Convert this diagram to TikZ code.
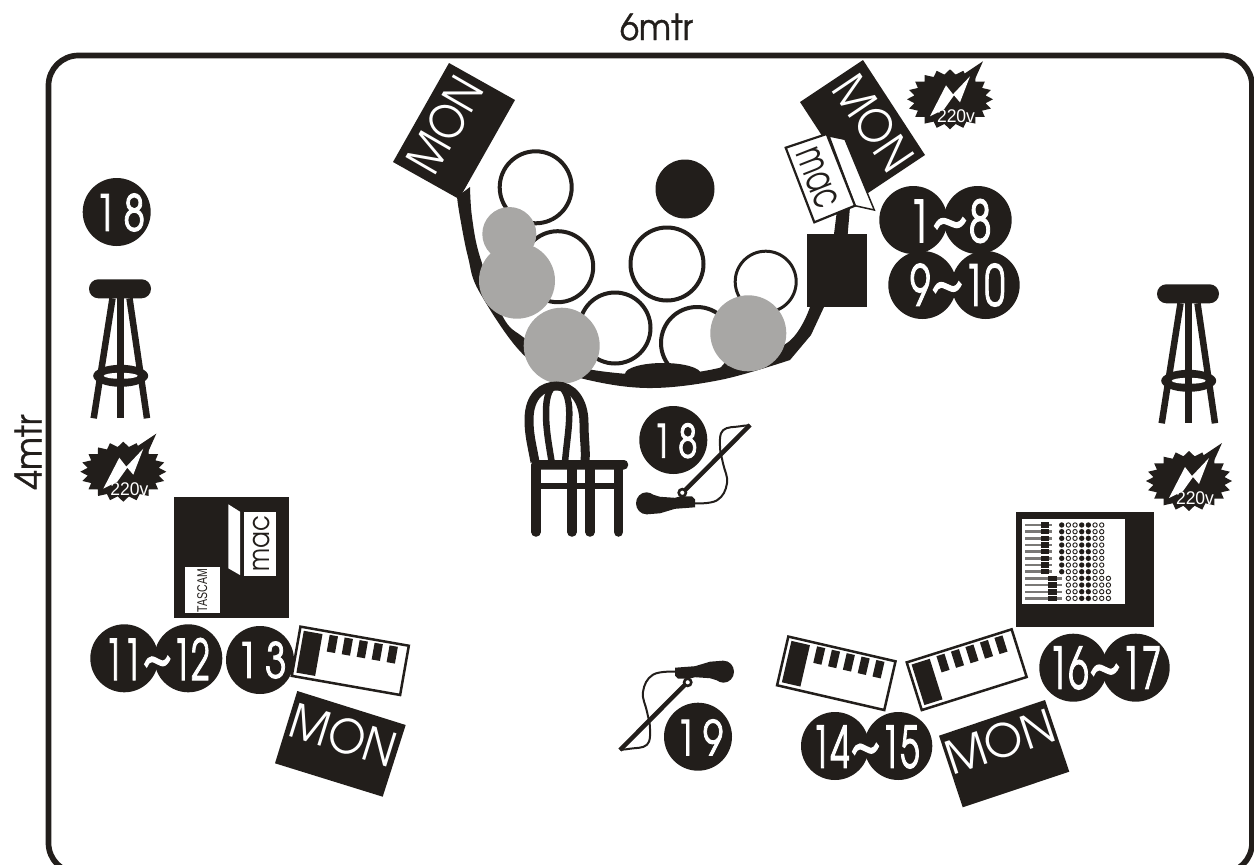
\documentclass[tikz,border=0pt]{standalone}
\usepackage{graphicx}
\usepackage{fontspec}
\setmainfont{TeX Gyre Adventor}
\newfontfamily\armfont{Liberation Sans}
\newfontfamily\numfont[FakeBold=2]{TeX Gyre Adventor}
\newfontfamily\midfont[FakeBold=1]{TeX Gyre Adventor}
\definecolor{ink}{HTML}{221E1B}
\definecolor{stone}{HTML}{A8A7A5}
\newcommand{\fitted}[3]{\resizebox*{#1pt}{#2pt}{#3}}
\newcommand{\swung}{\scalebox{1.5}[1.1]{\char"007E}}
\tikzset{
  x=1pt,y=-1pt,
  lab/.style={inner sep=0pt,outer sep=0pt,text=white},
  blk/.style={inner sep=0pt,outer sep=0pt,text=ink},
  openring/.style={draw=ink,line width=4,fill=white},
  badge/.pic={\fill[ink] (0,0) circle (34);},
  kbd/.pic={
    \draw[draw=ink,line width=2.5,fill=white] (-55,-25) rectangle (55,25);
    \fill[ink] (-51,-21.5) rectangle (-32,21);
    \foreach \k in {0,...,4}{\fill[ink] ({-20.6+15.2*\k-4.2},-22) rectangle ({-20.6+15.2*\k+4.2},-5);}
  },
  stool/.pic={
    \fill[ink,rounded corners=9.4] (0,0) rectangle (62,19);
    \draw[ink,line width=6.5] (23.5,19) -- (4.7,139);
    \draw[ink,line width=6.5] (40.5,19) -- (58,139);
    \fill[ink] (31.7,96.5) ellipse (27.5 and 11);
    \fill[white] (31.7,96.5) ellipse (17 and 3);
    \draw[ink,line width=7] (31.7,19) -- (31.7,139);
  },
  burst/.pic={
    \fill[ink] plot[samples at={0,9,...,351},variable=\t] ({(mod(\t,18)==0?43:36)*cos(\t)},{(mod(\t,18)==0?30:25)*sin(\t)}) -- cycle;
    \fill[ink] (12,-24) -- (33,-38) -- (24,-18) -- cycle;
    \fill[white] (-20,17) -- (-4,-14) -- (3,-5) -- (20,-23) -- (10,3) -- (4,-4) -- (-6,10) -- cycle;
    \node[lab] (volt) at (6,17) {\fitted{38}{13}{\armfont 220v}};
  },
  mic/.pic={
    \fill[ink] (1.5,0) ellipse (10.5 and 11);
    \fill[ink] (2,-10.5) -- (15,-6.5) -- (30,-5.5) -- (36,-7) -- (47,-7) -- (50,-4) -- (50,4) -- (30,5.5) -- (15,10) -- (2,11) -- cycle;
    \draw[ink,line width=4.5] (40,-13) -- (105,-78.3);
    \draw[ink,line width=2.6,fill=white] (37.3,-10.6) circle (3.6);
    \draw[ink,line width=2] plot[smooth,tension=.7] coordinates {(50,0) (72,-3) (82,-20) (78,-40) (75,-57) (78,-73) (95,-77) (105,-78)};
  },
}
\begin{document}
\begin{tikzpicture}
\clip (0,0) rectangle (1254,865);
% room
\draw[ink,line width=5.7,rounded corners=30] (48.5,55.5) rectangle (1252,873);
\node[blk] (widthlabel) at (656.5,27) {\fitted{73}{27}{\midfont 6mtr}};
\node[blk,rotate=90] (depthlabel) at (28,452) {\fitted{75}{27}{\midfont 4mtr}};
% drum kit
\draw[openring] (535.7,187.3) circle (36);
\draw[openring] (557.7,266.7) circle (35.5);
\draw[openring] (667,264) circle (36.5);
\draw[openring] (615,328) circle (35.5);
\draw[openring] (697,343) circle (36);
\draw[openring,line width=3] (765.7,281.7) circle (30.5);
\fill[ink] (685,189) circle (29.5);
% riser arc
\fill[ink] plot[smooth,tension=.6] coordinates {(457,197) (460,217) (468,257) (480,293) (527,358) (580,378) (647,388) (720,380) (790,360)}
  -- (811,335) -- (824,307)
  -- plot[smooth,tension=.6] coordinates {(810,307) (787,343) (723,367) (660,375) (593,370) (555,358) (523,337) (503,317) (480,257) (472,217) (470,187)} -- cycle;
\fill[ink] (663,374) ellipse (38 and 11);
% rear monitors
\fill[ink] (449,63) -- (515,100) -- (459,199) -- (393,162) -- cycle;
\node[lab,rotate=60] (monrearleft) at (445,124.7) {\fitted{102}{36}{MON}};
\fill[ink] (863,60) -- (925,155) -- (862,197) -- (800,102) -- cycle;
\node[lab,rotate=-56] (monrearright) at (873.3,122.7) {\fitted{104}{35}{MON}};
% stand and laptop
\fill[ink] (807.3,234) rectangle (866.7,306.7);
\fill[ink] (834,234) -- (847.7,234) -- (850,207) -- (837,210) -- cycle;
\draw[ink,line width=1.5,fill=white] (829,136) -- (845,139.3) -- (874.3,210) -- (855,205.7) -- cycle;
\draw[ink,line width=2.2,fill=white] (785.7,147.7) -- (826.7,134) -- (855,205.7) -- (814.3,222.3) -- cycle;
\node[blk,rotate=-68.5] (macright) at (817.3,178.3) {\fitted{62}{24}{mac}};
% performers
\fill[stone] (509.3,234) circle (27);
\fill[stone] (517,280.7) circle (38);
\fill[stone] (561.7,345.7) circle (38);
\fill[stone] (748.3,333.3) circle (38);
% badges
\foreach \p in {(913.3,220),(977.7,220),(922.3,285),(985.7,285),(116.7,212),(673.3,440),(124.3,658.3),(188.3,658.3),(260,660),(835,746),(898.3,746),(1073.3,667.7),(1135.7,667.7),(698,736.7)}
  \pic at \p {badge};
\node[lab] (t1) at (950,221) {\fitted{83}{44}{\numfont 1\swung 8}};
\node[lab] (t2) at (957.5,285) {\fitted{95}{43}{\numfont 9\swung 10}};
\node[lab] (t3) at (120,212.5) {\fitted{50}{38}{\numfont 1\kern.18em 8}};
\node[lab] (t4) at (675,440.7) {\fitted{45}{35}{\numfont 1\kern.18em 8}};
\node[lab] (t5) at (157.3,659) {\fitted{105}{42}{\numfont 11\swung 12}};
\node[lab] (t6) at (261.7,660) {\fitted{50}{37}{\numfont 1\kern.18em 3}};
\node[lab] (t7) at (865.5,747) {\fitted{108}{43}{\numfont 14\swung 15}};
\node[lab] (t8) at (1105,668) {\fitted{113}{43}{\numfont 16\swung 17}};
\node[lab] (t9) at (699.7,737.3) {\fitted{47}{36}{\numfont 1\kern.18em 9}};
% stools and power
\pic at (89,279.3) {stool};
\pic at (1157,284.3) {stool};
\pic (pa) at (123.3,471.7) {burst};
\pic (pb) at (950,99.3) {burst};
\pic (pc) at (1189,481) {burst};
% chair
\draw[ink,line width=9] (535,462) .. controls (532,445) and (529,435) .. (529,420) .. controls (529,395) and (543,386) .. (556.7,386) .. controls (572,386) and (584,400) .. (584,423) .. controls (584,440) and (586,448) .. (585,462);
\draw[ink,line width=6.5] (551.7,462) .. controls (548,440) and (546,428) .. (546,413) .. controls (546,395) and (550,386) .. (556.7,386) .. controls (565,386) and (569.3,398) .. (569.3,413) .. controls (569.3,428) and (567,440) .. (565,462);
\fill[ink,rounded corners=4] (531.7,460) rectangle (628,469.5);
\fill[ink] (536,482.7) rectangle (618,489.3);
\foreach \lx in {536,572,590,618.5}{\draw[ink,line width=9.5,line cap=round] (\lx,465) -- (\lx,532);}
% microphones
\pic at (645,503.3) {mic};
\pic[rotate=180] at (725,671.7) {mic};
% left desk
\fill[ink] (174,497) rectangle (289,617.7);
\fill[white] (184.7,567.3) rectangle (220.3,613.3);
\node[blk,rotate=90] (tascam) at (202.3,590.5) {\fitted{43}{10}{\armfont TASCAM}};
\fill[white] (244,512.3) rectangle (276,576);
\fill[white] (228.3,504.3) -- (240,511.7) -- (240,575) -- (228.3,568.3) -- cycle;
\node[blk,rotate=90] (macleft) at (261.7,543.8) {\fitted{55.7}{16.7}{mac}};
% mixer
\fill[ink] (1016,512.3) rectangle (1154,626.7);
\fill[white] (1022.3,519) rectangle (1125,604.3);
\foreach \r in {0,...,7}{
  \draw[ink!60,line width=2.4] (1025,{525+6.67*\r}) -- (1051.7,{525+6.67*\r});
  \fill[ink] (1041,{522.2+6.67*\r}) rectangle (1049,{527.8+6.67*\r});
  \fill[ink] (1061.7,{525+6.67*\r}) circle (2.7);
  \foreach \c/\s in {1/0,2/0,3/1,4/1,5/0,6/0}{
    \ifnum\s=1 \fill[ink] ({1061.7+6.67*\c},{525+6.67*\r}) circle (2.7);
    \else \draw[ink,line width=.9] ({1061.7+6.67*\c},{525+6.67*\r}) circle (2.2); \fi}
}
\foreach \r in {8,...,11}{
  \draw[ink!60,line width=2.4] (1025,{525+6.67*\r}) -- (1061.7,{525+6.67*\r});
  \fill[ink] (1047.7,{522.2+6.67*\r}) rectangle (1057.3,{527.8+6.67*\r});
  \foreach \c/\s in {1/0,2/0,3/1,4/1,5/0,6/0,7/0}{
    \ifnum\s=1 \fill[ink] ({1061.7+6.67*\c},{525+6.67*\r}) circle (2.7);
    \else \draw[ink,line width=.9] ({1061.7+6.67*\c},{525+6.67*\r}) circle (2.2); \fi}
}
% keyboards
\pic[rotate=-10] at (350.3,660.8) {kbd};
\pic[rotate=-13] at (836.3,673.3) {kbd};
\pic[rotate=17.5] at (966.7,669.7) {kbd};
% front monitors
\fill[ink] (297.3,691) -- (405.7,725) -- (382.7,796.7) -- (275,763.3) -- cycle;
\node[lab,rotate=-17.4] (monfrontleft) at (343.3,735) {\fitted{108}{36}{MON}};
\fill[ink] (939,735.7) -- (1045,700) -- (1069.3,771.7) -- (962.7,807.3) -- cycle;
\node[lab,rotate=18.5] (monfrontright) at (1000,741.7) {\fitted{112}{35}{MON}};
\end{tikzpicture}
\end{document}
